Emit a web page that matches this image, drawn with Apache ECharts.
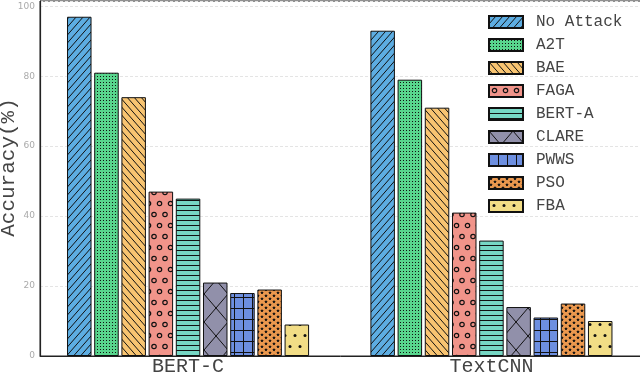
<!DOCTYPE html>
<html><head><meta charset="utf-8">
<script src="https://cdn.jsdelivr.net/npm/echarts@6/dist/echarts.min.js"></script>
<style>html,body{margin:0;padding:0;background:#fff}#c{width:640px;height:372px}</style>
</head><body><div id="c"></div>
<script>
// ---- data ----
const categories = ['BERT-C', 'TextCNN'];
const methods = ['No Attack', 'A2T', 'BAE', 'FAGA', 'BERT-A', 'CLARE', 'PWWS', 'PSO', 'FBA'];
const noAttack = [97, 93];
const a2t = [81, 79];
const bae = [74, 71];
const faga = [47, 41];
const bertA = [45, 33];
const clare = [21, 14];
const pwws = [18, 11];
const pso = [19, 15];
const fba = [9, 10];
const yTicks = [0, 20, 40, 60, 80, 100];
const seriesValues = [noAttack, a2t, bae, faga, bertA, clare, pwws, pso, fba];

// ---- styles ----
const colors = ['#5dade2', '#58d68d', '#f8c471', '#f1948a', '#76d7c4', '#9190aa', '#6d8fe0', '#eb984e', '#f2dd86'];

function tile(w, h, bg, draw) {
  const c = document.createElement('canvas');
  c.width = w; c.height = h;
  const g = c.getContext('2d');
  g.fillStyle = bg; g.fillRect(0, 0, w, h);
  g.strokeStyle = '#111'; g.fillStyle = '#111'; g.lineWidth = 1;
  draw(g, w, h);
  return { image: c, repeat: 'repeat' };
}
function line(g, x1, y1, x2, y2) { g.beginPath(); g.moveTo(x1, y1); g.lineTo(x2, y2); g.stroke(); }
function circle(g, x, y, r, fill) { g.beginPath(); g.arc(x, y, r, 0, Math.PI * 2); fill ? g.fill() : g.stroke(); }
function star(g, cx, cy, R) {
  g.beginPath();
  for (let k = 0; k < 10; k++) {
    const r = k % 2 ? R * 0.45 : R;
    const a = -Math.PI / 2 + k * Math.PI / 5;
    const x = cx + r * Math.cos(a), y = cy + r * Math.sin(a);
    k ? g.lineTo(x, y) : g.moveTo(x, y);
  }
  g.closePath(); g.fill();
}
const drawers = [
  (g, w, h) => { for (let k = -1; k <= 1; k++) line(g, k * w, h, (k + 1) * w, 0); },
  (g, w, h) => { g.fillRect(1, 1, 1, 1); },
  (g, w, h) => { for (let k = -1; k <= 1; k++) line(g, k * w, 0, (k + 1) * w, h); },
  (g, w, h) => { g.lineWidth = 1.2; circle(g, 5.5, 5.5, 2.2); circle(g, 0, 16.5, 2.2); circle(g, 11, 16.5, 2.2); },
  (g, w, h) => { g.fillRect(0, 0, w, 1); },
  (g, w, h) => { line(g, 0, 0, w, h); line(g, 0, h, w, 0); },
  (g, w, h) => { g.fillRect(0, 0, 1, h); g.fillRect(0, 0, w, 1); },
  (g, w, h) => { star(g, 2, 1.8, 1.9); star(g, 6, 4.8, 1.9); star(g, 10, 1.8, 1.9); star(g, -2, 4.8, 1.9); star(g, 2, 7.8, 1.9); star(g, 10, 7.8, 1.9); },
  (g, w, h) => { circle(g, 5, 5.5, 1.5, true); circle(g, 0, 16.5, 1.5, true); circle(g, 10, 16.5, 1.5, true); }
];
const tileSizes = [[7, 8], [3, 3], [7, 8], [11, 22], [4, 5], [24, 28], [9, 11], [8, 6], [10, 22]];
const patterns = drawers.map((d, i) => tile(tileSizes[i][0], tileSizes[i][1], colors[i], d));

const mono = 'Liberation Mono, Courier New, monospace';
const chart = echarts.init(document.getElementById('c'), null, { renderer: 'canvas' });
chart.setOption({
  animation: false,
  grid: { left: 40, right: -1, top: 1, bottom: 16, show: true, borderColor: '#222', borderWidth: 1, outerBoundsMode: 'none' },
  legend: {
    orient: 'vertical', left: 488, top: 14, padding: 0,
    itemWidth: 34, itemHeight: 12, itemGap: 7,
    icon: 'rect',
    data: methods,
    textStyle: { fontFamily: mono, fontSize: 16, color: '#444', lineHeight: 16, padding: [0, 0, 0, 8] }
  },
  xAxis: {
    type: 'value', min: -0.488, max: 1.493,
    axisLine: { show: true, onZero: false, lineStyle: { color: '#222', width: 1 } },
    axisTick: { show: false },
    splitLine: { show: false },
    axisLabel: {
      customValues: [0, 1],
      formatter: v => categories[Math.round(v)],
      fontFamily: mono, fontSize: 20, color: '#444', margin: 1
    }
  },
  yAxis: {
    type: 'value', min: 0, max: 101.5, interval: 20,
    name: 'Accuracy(%)', nameLocation: 'middle', nameGap: 21, nameMoveOverlap: false,
    nameTextStyle: { fontFamily: mono, fontSize: 21, color: '#444', padding: [0, 0, 0, 22] },
    axisLine: { show: true, onZero: false, lineStyle: { color: '#222', width: 1.2 } },
    axisTick: { show: false },
    axisLabel: {
      customValues: yTicks,
      fontFamily: 'DejaVu Sans, sans-serif', fontSize: 9, color: '#aaa', margin: 5
    },
    splitLine: { show: true, lineStyle: { color: '#e4e4e4', type: [3, 2], width: 1 } }
  },
  series: methods.map((m, i) => ({
    name: m, type: 'bar',
    data: seriesValues[i].map((v, j) => [j, v]),
    barWidth: 24.5, barGap: '11%',
    itemStyle: { color: patterns[i], borderColor: '#111', borderWidth: 1 },
    emphasis: { disabled: true }
  }))
});
</script></body></html>
